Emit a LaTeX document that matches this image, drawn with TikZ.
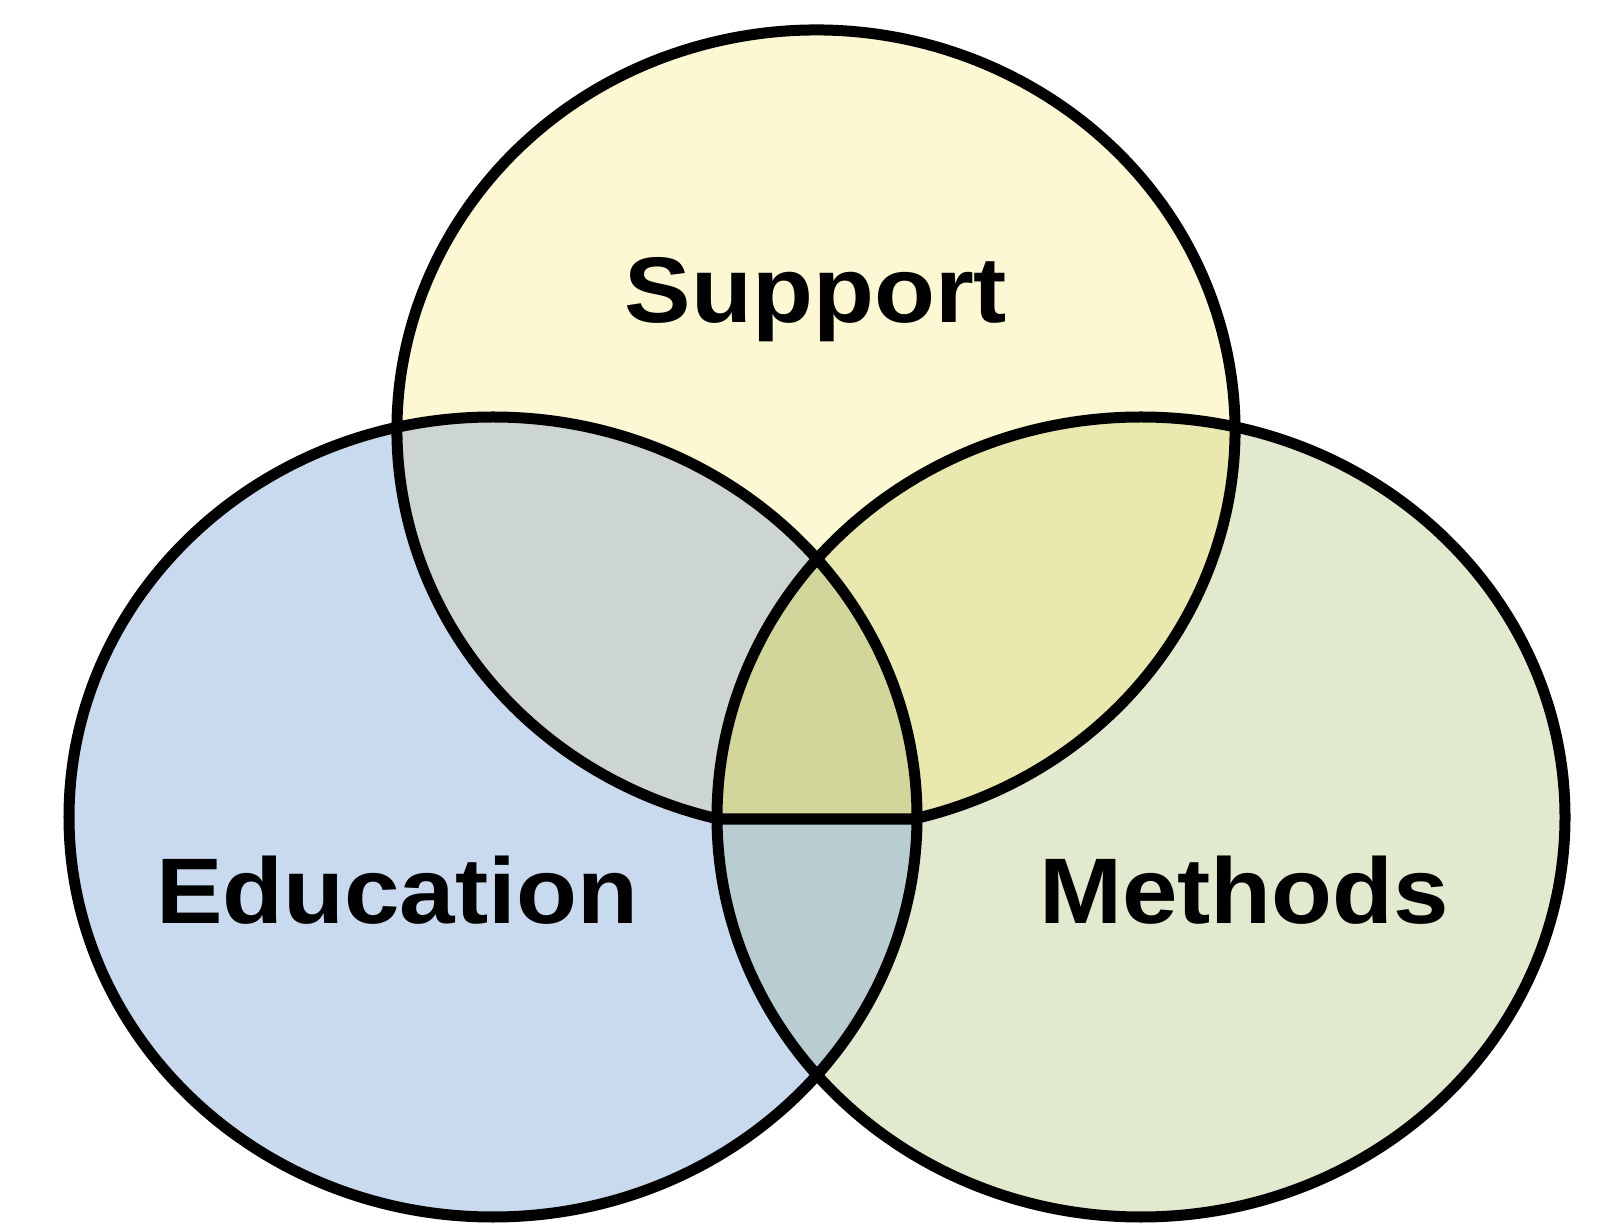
\documentclass[tikz,border=0pt]{standalone}
\usepackage{fontspec}
\setmainfont{Liberation Sans}
\usepackage{graphicx}
\definecolor{cTop}{HTML}{FCF8D3}
\definecolor{cLeft}{HTML}{C9D9EE}
\definecolor{cRight}{HTML}{E1E9CE}
\definecolor{cLT}{HTML}{CDD5D0}
\definecolor{cRT}{HTML}{E9E9AF}
\definecolor{cLR}{HTML}{B9CCCF}
\definecolor{cAll}{HTML}{D3D69B}
\begin{document}
\begin{tikzpicture}[x=0.01cm,y=0.01cm,
  outline/.style={draw=black,line width=0.11cm},
  setlabel/.style={font=\fontsize{26.5pt}{30pt}\selectfont\bfseries, anchor=base, inner sep=0pt}]
\useasboundingbox (0,0) rectangle (1597,1227);
\def\leftE{(493,410) ellipse [x radius=424, y radius=400]}
\def\rightE{(1141,410) ellipse [x radius=424, y radius=400]}
\def\topS{(718.5,408) -- (913.5,408) arc [start angle=-76.54, end angle=256.54, x radius=419, y radius=400] -- cycle}
% base fills
\fill[cLeft] \leftE;
\fill[cRight] \rightE;
\fill[cTop] \topS;
% pairwise overlaps
\begin{scope}
  \clip \leftE;
  \fill[cLT] \topS;
\end{scope}
\begin{scope}
  \clip \rightE;
  \fill[cRT] \topS;
\end{scope}
\begin{scope}
  \clip \leftE;
  \clip \rightE;
  \fill[cLR] \leftE;
  \clip \topS;
  \fill[cAll] \leftE;
\end{scope}
% outlines
\draw[outline] \leftE;
\draw[outline] \rightE;
\draw[outline] \topS;
% labels
\node[setlabel] (support) at (816,904) {\scalebox{1.07}[1]{Support}};
\node[setlabel] (education) at (397,304) {\scalebox{1.07}[1]{Education}};
\node[setlabel] (methods) at (1244,304) {\scalebox{1.07}[1]{Methods}};
\end{tikzpicture}
\end{document}
